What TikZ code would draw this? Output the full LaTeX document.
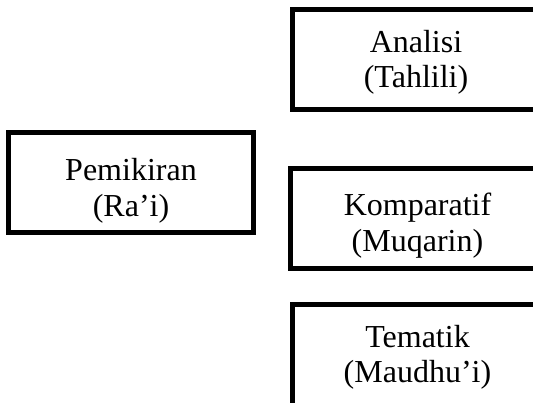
\documentclass[tikz,border=0pt]{standalone}
\usepackage{fontspec}
\setmainfont{Liberation Serif}
\begin{document}
\begin{tikzpicture}[x=1pt,y=-1pt,
  boxnode/.style={draw=black, line width=5pt, rectangle, inner sep=0pt, minimum height=100.5pt},
  txt/.style={align=center, font=\fontsize{32}{35.5}\selectfont, inner sep=0pt}]
\clip (0,0) rectangle (533,403);
\fill[white] (0,0) rectangle (533,403);
\node[boxnode, minimum width=245pt] (pem) at (131,182.75) {};
\node[txt, yshift=-8pt] (pemt) at (pem.center) {Pemikiran\\(Ra’i)};
\node[boxnode, minimum width=248pt] (ana) at (416,59.75) {};
\node[txt, yshift=-2.4pt] (anat) at (ana.center) {Analisi\\(Tahlili)};
\node[boxnode, minimum width=255pt] (kom) at (417.5,218.75) {};
\node[txt, yshift=-7pt] (komt) at (kom.center) {Komparatif\\(Muqarin)};
\node[boxnode, minimum width=251pt] (tem) at (417.5,354.75) {};
\node[txt, yshift=-2.4pt] (temt) at (tem.center) {Tematik\\(Maudhu’i)};
\end{tikzpicture}
\end{document}
